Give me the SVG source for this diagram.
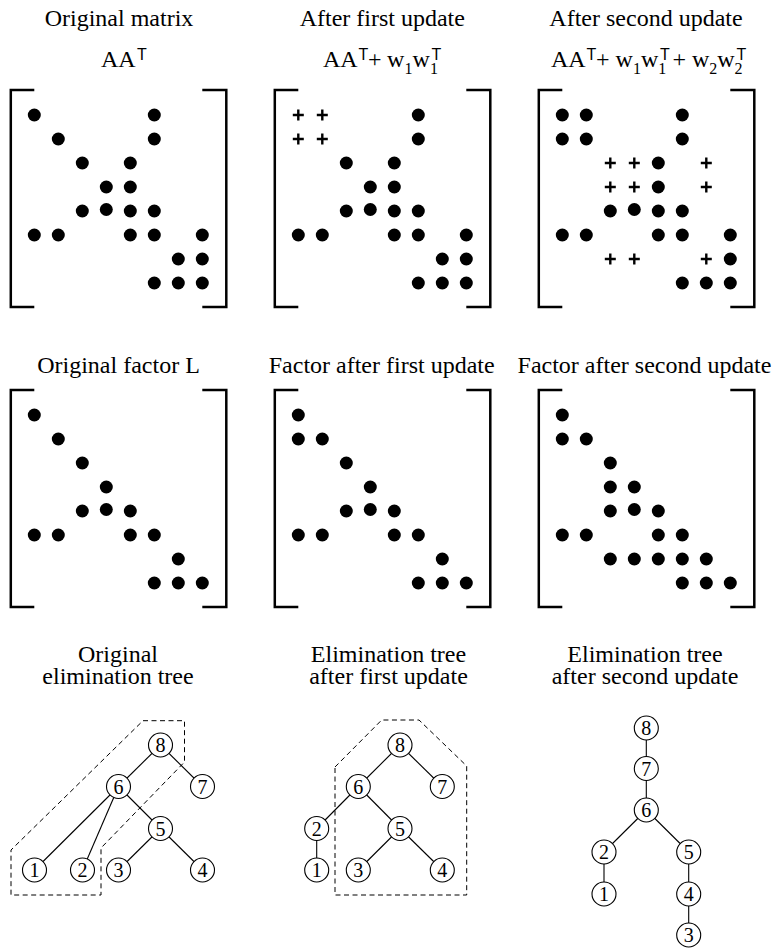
<svg xmlns="http://www.w3.org/2000/svg" width="773" height="949" viewBox="0 0 773 949" font-family="'Liberation Serif', 'DejaVu Serif', serif">
<style>
text{font-family:'Liberation Serif','DejaVu Serif',serif;fill:#000}
.lbl{font-size:24px;text-anchor:middle}
.f{font-size:24px}
.sub{font-size:16px}
text.sup{font-family:'Liberation Sans','DejaVu Sans',sans-serif;font-size:16px}
.br{fill:none;stroke:#000;stroke-width:2.5}
.edge{stroke:#000;stroke-width:1.1;fill:none}
.dash{fill:none;stroke:#000;stroke-width:1;stroke-dasharray:5 3.5}
.node circle{fill:#fff;stroke:#000;stroke-width:1.1}
.node text{font-size:20px;text-anchor:middle}
</style>
<defs>
<circle id="d" r="6.5" fill="#000"/>
<path id="p" d="M-5.5 0H5.5M0 -5.5V5.5" stroke="#000" stroke-width="2.4" fill="none"/>
<path id="brk" d="M0 -25H-23.5V192H0M168 -25H192V192H168" class="br"/>
</defs>

<g id="titles" font-family="'Liberation Serif', 'DejaVu Serif', serif">
<text class="lbl" x="119" y="26">Original matrix</text>
<text class="lbl" x="382.3" y="26">After first update</text>
<text class="lbl" x="646" y="26">After second update</text>
<text class="lbl" x="118.5" y="373">Original factor L</text>
<text class="lbl" x="381.7" y="373">Factor after first update</text>
<text class="lbl" x="644.5" y="373">Factor after second update</text>
<text class="lbl" x="118" y="661.5">Original</text>
<text class="lbl" x="118" y="683.5">elimination tree</text>
<text class="lbl" x="388.5" y="661.5">Elimination tree</text>
<text class="lbl" x="388.5" y="683.5">after first update</text>
<text class="lbl" x="645" y="661.5">Elimination tree</text>
<text class="lbl" x="645" y="683.5">after second update</text>
</g>

<g id="formulas" font-family="'Liberation Serif', 'DejaVu Serif', serif">
<text class="f" x="101" y="67">AA</text>
<text class="sup" x="137" y="60" font-family="'Liberation Sans', 'DejaVu Sans', sans-serif">T</text>

<text class="f" x="323" y="67">AA</text>
<text class="sup" x="358.5" y="60" font-family="'Liberation Sans', 'DejaVu Sans', sans-serif">T</text>
<text class="f" x="368" y="67">+</text>
<text class="f" x="387" y="67">w</text>
<text class="sub" x="404.5" y="74">1</text>
<text class="f" x="412.5" y="67">w</text>
<text class="sub" x="430" y="74">1</text>
<text class="sup" x="431.5" y="60" font-family="'Liberation Sans', 'DejaVu Sans', sans-serif">T</text>

<text class="f" x="551" y="67">AA</text>
<text class="sup" x="586.5" y="60" font-family="'Liberation Sans', 'DejaVu Sans', sans-serif">T</text>
<text class="f" x="596" y="67">+</text>
<text class="f" x="615.5" y="67">w</text>
<text class="sub" x="633" y="74">1</text>
<text class="f" x="641" y="67">w</text>
<text class="sub" x="658.3" y="74">1</text>
<text class="sup" x="660" y="60" font-family="'Liberation Sans', 'DejaVu Sans', sans-serif">T</text>
<text class="f" x="672.5" y="67">+</text>
<text class="f" x="692" y="67">w</text>
<text class="sub" x="709.3" y="74">2</text>
<text class="f" x="717.3" y="67">w</text>
<text class="sub" x="734.6" y="74">2</text>
<text class="sup" x="736.5" y="60" font-family="'Liberation Sans', 'DejaVu Sans', sans-serif">T</text>
</g>

<g id="m1" transform="translate(34.3,115)">
<use href="#brk"/>
<use href="#d" x="0" y="0"/><use href="#d" x="120" y="0"/>
<use href="#d" x="24" y="24"/><use href="#d" x="120" y="24"/>
<use href="#d" x="48" y="48"/><use href="#d" x="96" y="48"/>
<use href="#d" x="72" y="72"/><use href="#d" x="96" y="72"/>
<use href="#d" x="48" y="96"/><use href="#d" x="72" y="94.5"/><use href="#d" x="96" y="96"/><use href="#d" x="120" y="96"/>
<use href="#d" x="0" y="120"/><use href="#d" x="24" y="120"/><use href="#d" x="96" y="120"/><use href="#d" x="120" y="120"/><use href="#d" x="168" y="120"/>
<use href="#d" x="144" y="144"/><use href="#d" x="168" y="144"/>
<use href="#d" x="120" y="168"/><use href="#d" x="144" y="168"/><use href="#d" x="168" y="168"/>
</g>

<g id="m2" transform="translate(298.3,115)">
<use href="#brk"/>
<use href="#p" x="0" y="0"/><use href="#p" x="24" y="0"/><use href="#d" x="120" y="0"/>
<use href="#p" x="0" y="24"/><use href="#p" x="24" y="24"/><use href="#d" x="120" y="24"/>
<use href="#d" x="48" y="48"/><use href="#d" x="96" y="48"/>
<use href="#d" x="72" y="72"/><use href="#d" x="96" y="72"/>
<use href="#d" x="48" y="96"/><use href="#d" x="72" y="94.5"/><use href="#d" x="96" y="96"/><use href="#d" x="120" y="96"/>
<use href="#d" x="0" y="120"/><use href="#d" x="24" y="120"/><use href="#d" x="96" y="120"/><use href="#d" x="120" y="120"/><use href="#d" x="168" y="120"/>
<use href="#d" x="144" y="144"/><use href="#d" x="168" y="144"/>
<use href="#d" x="120" y="168"/><use href="#d" x="144" y="168"/><use href="#d" x="168" y="168"/>
</g>

<g id="m3" transform="translate(562.3,115)">
<use href="#brk"/>
<use href="#d" x="0" y="0"/><use href="#d" x="24" y="0"/><use href="#d" x="120" y="0"/>
<use href="#d" x="0" y="24"/><use href="#d" x="24" y="24"/><use href="#d" x="120" y="24"/>
<use href="#p" x="48" y="48"/><use href="#p" x="72" y="48"/><use href="#d" x="96" y="48"/><use href="#p" x="144" y="48"/>
<use href="#p" x="48" y="72"/><use href="#p" x="72" y="72"/><use href="#d" x="96" y="72"/><use href="#p" x="144" y="72"/>
<use href="#d" x="48" y="96"/><use href="#d" x="72" y="94.5"/><use href="#d" x="96" y="96"/><use href="#d" x="120" y="96"/>
<use href="#d" x="0" y="120"/><use href="#d" x="24" y="120"/><use href="#d" x="96" y="120"/><use href="#d" x="120" y="120"/><use href="#d" x="168" y="120"/>
<use href="#p" x="48" y="144"/><use href="#p" x="72" y="144"/><use href="#p" x="144" y="144"/><use href="#d" x="168" y="144"/>
<use href="#d" x="120" y="168"/><use href="#d" x="144" y="168"/><use href="#d" x="168" y="168"/>
</g>

<g id="m4" transform="translate(34.3,415)">
<use href="#brk"/>
<use href="#d" x="0" y="0"/>
<use href="#d" x="24" y="24"/>
<use href="#d" x="48" y="48"/>
<use href="#d" x="72" y="72"/>
<use href="#d" x="48" y="96"/><use href="#d" x="72" y="94.5"/><use href="#d" x="96" y="96"/>
<use href="#d" x="0" y="120"/><use href="#d" x="24" y="120"/><use href="#d" x="96" y="120"/><use href="#d" x="120" y="120"/>
<use href="#d" x="144" y="144"/>
<use href="#d" x="120" y="168"/><use href="#d" x="144" y="168"/><use href="#d" x="168" y="168"/>
</g>

<g id="m5" transform="translate(298.3,415)">
<use href="#brk"/>
<use href="#d" x="0" y="0"/>
<use href="#d" x="0" y="24"/><use href="#d" x="24" y="24"/>
<use href="#d" x="48" y="48"/>
<use href="#d" x="72" y="72"/>
<use href="#d" x="48" y="96"/><use href="#d" x="72" y="94.5"/><use href="#d" x="96" y="96"/>
<use href="#d" x="0" y="120"/><use href="#d" x="24" y="120"/><use href="#d" x="96" y="120"/><use href="#d" x="120" y="120"/>
<use href="#d" x="144" y="144"/>
<use href="#d" x="120" y="168"/><use href="#d" x="144" y="168"/><use href="#d" x="168" y="168"/>
</g>

<g id="m6" transform="translate(562.3,415)">
<use href="#brk"/>
<use href="#d" x="0" y="0"/>
<use href="#d" x="0" y="24"/><use href="#d" x="24" y="24"/>
<use href="#d" x="48" y="48"/>
<use href="#d" x="48" y="72"/><use href="#d" x="72" y="72"/>
<use href="#d" x="48" y="96"/><use href="#d" x="72" y="94.5"/><use href="#d" x="96" y="96"/>
<use href="#d" x="0" y="120"/><use href="#d" x="24" y="120"/><use href="#d" x="96" y="120"/><use href="#d" x="120" y="120"/>
<use href="#d" x="48" y="144"/><use href="#d" x="72" y="144"/><use href="#d" x="96" y="144"/><use href="#d" x="120" y="144"/><use href="#d" x="144" y="144"/>
<use href="#d" x="120" y="168"/><use href="#d" x="144" y="168"/><use href="#d" x="168" y="168"/>
</g>

<g id="outlines">
<polygon class="dash" points="143,720.7 184.5,720.7 184.5,762 101,848 101,895 11,895 11,850"/>
<polygon class="dash" points="335,767 381.7,720 419,720 466.7,766 466.7,895 335,895"/>
</g>

<g id="connectors">
<line class="edge" x1="160.5" y1="745" x2="118.5" y2="786.5"/>
<line class="edge" x1="160.5" y1="745" x2="202.5" y2="786.5"/>
<line class="edge" x1="118.5" y1="786.5" x2="34.5" y2="870"/>
<line class="edge" x1="118.5" y1="786.5" x2="82.5" y2="870"/>
<line class="edge" x1="118.5" y1="786.5" x2="160.5" y2="828.5"/>
<line class="edge" x1="160.5" y1="828.5" x2="118.5" y2="870"/>
<line class="edge" x1="160.5" y1="828.5" x2="202.5" y2="870"/>
<line class="edge" x1="400" y1="745" x2="358.3" y2="786.5"/>
<line class="edge" x1="400" y1="745" x2="442.3" y2="786.5"/>
<line class="edge" x1="358.3" y1="786.5" x2="316.7" y2="828.5"/>
<line class="edge" x1="358.3" y1="786.5" x2="400" y2="828.5"/>
<line class="edge" x1="316.7" y1="828.5" x2="316.7" y2="870"/>
<line class="edge" x1="400" y1="828.5" x2="358.3" y2="870"/>
<line class="edge" x1="400" y1="828.5" x2="442.3" y2="870"/>
<line class="edge" x1="646.3" y1="728" x2="646.3" y2="768.5"/>
<line class="edge" x1="646.3" y1="768.5" x2="646.3" y2="810"/>
<line class="edge" x1="646.3" y1="810" x2="604" y2="852"/>
<line class="edge" x1="646.3" y1="810" x2="688.7" y2="852"/>
<line class="edge" x1="604" y1="852" x2="604" y2="894"/>
<line class="edge" x1="688.7" y1="852" x2="688.7" y2="894"/>
<line class="edge" x1="688.7" y1="894" x2="688.7" y2="935"/>
</g>

<g font-family="'Liberation Serif', 'DejaVu Serif', serif">
<g id="t1n8" class="node"><circle cx="160.5" cy="745" r="12"/><text x="160.5" y="752">8</text></g>
<g id="t1n6" class="node"><circle cx="118.5" cy="786.5" r="12"/><text x="118.5" y="793.5">6</text></g>
<g id="t1n7" class="node"><circle cx="202.5" cy="786.5" r="12"/><text x="202.5" y="793.5">7</text></g>
<g id="t1n5" class="node"><circle cx="160.5" cy="828.5" r="12"/><text x="160.5" y="835.5">5</text></g>
<g id="t1n1" class="node"><circle cx="34.5" cy="870" r="12"/><text x="34.5" y="877">1</text></g>
<g id="t1n2" class="node"><circle cx="82.5" cy="870" r="12"/><text x="82.5" y="877">2</text></g>
<g id="t1n3" class="node"><circle cx="118.5" cy="870" r="12"/><text x="118.5" y="877">3</text></g>
<g id="t1n4" class="node"><circle cx="202.5" cy="870" r="12"/><text x="202.5" y="877">4</text></g>
<g id="t2n8" class="node"><circle cx="400" cy="745" r="12"/><text x="400" y="752">8</text></g>
<g id="t2n6" class="node"><circle cx="358.3" cy="786.5" r="12"/><text x="358.3" y="793.5">6</text></g>
<g id="t2n7" class="node"><circle cx="442.3" cy="786.5" r="12"/><text x="442.3" y="793.5">7</text></g>
<g id="t2n2" class="node"><circle cx="316.7" cy="828.5" r="12"/><text x="316.7" y="835.5">2</text></g>
<g id="t2n5" class="node"><circle cx="400" cy="828.5" r="12"/><text x="400" y="835.5">5</text></g>
<g id="t2n1" class="node"><circle cx="316.7" cy="870" r="12"/><text x="316.7" y="877">1</text></g>
<g id="t2n3" class="node"><circle cx="358.3" cy="870" r="12"/><text x="358.3" y="877">3</text></g>
<g id="t2n4" class="node"><circle cx="442.3" cy="870" r="12"/><text x="442.3" y="877">4</text></g>
<g id="t3n8" class="node"><circle cx="646.3" cy="728" r="12"/><text x="646.3" y="735">8</text></g>
<g id="t3n7" class="node"><circle cx="646.3" cy="768.5" r="12"/><text x="646.3" y="775.5">7</text></g>
<g id="t3n6" class="node"><circle cx="646.3" cy="810" r="12"/><text x="646.3" y="817">6</text></g>
<g id="t3n2" class="node"><circle cx="604" cy="852" r="12"/><text x="604" y="859">2</text></g>
<g id="t3n5" class="node"><circle cx="688.7" cy="852" r="12"/><text x="688.7" y="859">5</text></g>
<g id="t3n1" class="node"><circle cx="604" cy="894" r="12"/><text x="604" y="901">1</text></g>
<g id="t3n4" class="node"><circle cx="688.7" cy="894" r="12"/><text x="688.7" y="901">4</text></g>
<g id="t3n3" class="node"><circle cx="688.7" cy="935" r="12"/><text x="688.7" y="942">3</text></g>
</g>
</svg>
